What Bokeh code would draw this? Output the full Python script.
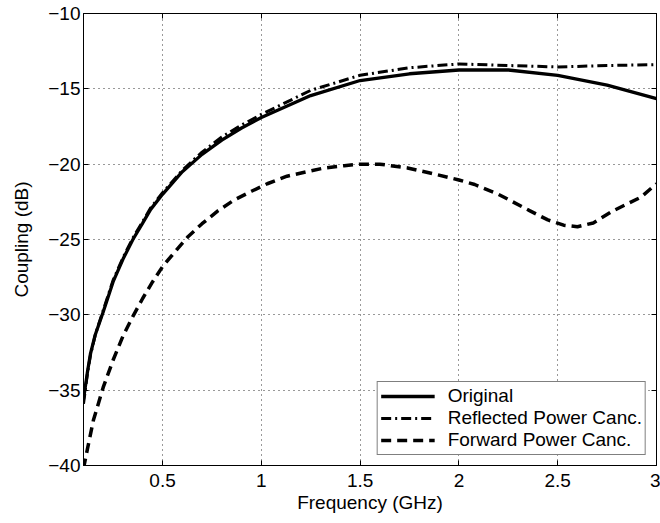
from bokeh.plotting import figure
from bokeh.models import LinearAxis, FixedTicker, Range1d
from bokeh.embed import file_html
from bokeh.resources import INLINE

# ---- data ----
freq_orig = [0.1, 0.12, 0.135, 0.16, 0.2, 0.25, 0.3, 0.35, 0.4, 0.44, 0.5, 0.6, 0.7, 0.8, 0.9,
             1.0, 1.25, 1.5, 1.75, 2.0, 2.25, 2.5, 2.75, 3.0]
coup_orig = [-35.6, -33.8, -32.6, -31.3, -29.8, -27.8, -26.3, -25.0, -23.9, -23.0, -22.0, -20.5,
             -19.35, -18.4, -17.6, -16.9, -15.45, -14.45, -14.0, -13.75, -13.75, -14.1, -14.75, -15.65]

freq_refl = [0.1, 0.12, 0.135, 0.16, 0.2, 0.25, 0.3, 0.35, 0.4, 0.44, 0.5, 0.6, 0.7, 0.8, 0.9,
             1.0, 1.25, 1.5, 1.75, 2.0, 2.25, 2.5, 2.75, 3.0]
coup_refl = [-35.9, -33.9, -32.7, -31.3, -29.7, -27.7, -26.2, -24.9, -23.8, -22.9, -21.9, -20.4,
             -19.2, -18.2, -17.4, -16.7, -15.1, -14.1, -13.6, -13.35, -13.45, -13.55, -13.45, -13.4]

freq_fwd = [0.1, 0.12, 0.15, 0.2, 0.25, 0.3, 0.35, 0.4, 0.45, 0.5, 0.57, 0.63, 0.7, 0.78, 0.86,
            0.95, 1.03, 1.13, 1.23, 1.32, 1.42, 1.5, 1.6, 1.74, 1.89, 2.0, 2.08, 2.2, 2.36, 2.45,
            2.53, 2.6, 2.68, 2.78, 2.92, 3.0]
coup_fwd = [-40.2, -38.9, -37.0, -34.8, -33.0, -31.4, -30.1, -28.9, -27.8, -26.8, -25.7, -24.8,
            -23.95, -23.1, -22.4, -21.8, -21.3, -20.8, -20.5, -20.25, -20.1, -20.0, -20.0, -20.25,
            -20.7, -21.05, -21.35, -22.0, -23.1, -23.7, -24.05, -24.15, -23.9, -23.1, -22.2, -21.3]

series_names = ["Original", "Reflected Power Canc.", "Forward Power Canc."]

x_ticks = [0.5, 1, 1.5, 2, 2.5, 3]
x_tick_labels = ["0.5", "1", "1.5", "2", "2.5", "3"]
y_ticks = [-40, -35, -30, -25, -20, -15, -10]
y_tick_labels = ["\u221240", "\u221235", "\u221230", "\u221225", "\u221220", "\u221215", "\u221210"]

FONT = "Liberation Sans"
FS = "19px"

p = figure(width=660, height=523, output_backend="svg", toolbar_location=None,
           x_range=Range1d(0.1, 3), y_range=Range1d(-40, -10),
           min_border_left=83, min_border_right=4, min_border_top=13, min_border_bottom=58,
           x_axis_label="Frequency (GHz)", y_axis_label="Coupling (dB)")

p.outline_line_color = "black"
p.outline_line_width = 1
p.background_fill_color = "white"
p.border_fill_color = "white"

# grid
p.xgrid.ticker = FixedTicker(ticks=x_ticks)
p.ygrid.ticker = FixedTicker(ticks=y_ticks)
for g in (p.xgrid, p.ygrid):
    g.grid_line_color = "black"
    g.grid_line_alpha = 0.8
    g.grid_line_dash = "1 4"
    g.grid_line_width = 1

def style_axis(ax, ticks, labels, show_labels=True):
    ax.ticker = FixedTicker(ticks=ticks)
    ax.major_tick_in = 5
    ax.major_tick_out = 0
    ax.minor_tick_in = 0
    ax.minor_tick_out = 0
    ax.axis_line_color = "black"
    ax.major_tick_line_color = "black"
    ax.major_label_text_font = FONT
    ax.axis_label_text_font = FONT
    ax.axis_label_text_font_style = "normal"
    ax.axis_label_text_color = "black"
    if show_labels:
        ax.major_label_overrides = {t: l for t, l in zip(ticks, labels)}
        ax.major_label_text_color = "black"
        ax.major_label_text_font_size = FS
        ax.axis_label_text_font_size = FS
    else:
        ax.major_label_text_color = None
        ax.major_label_text_font_size = "1px"
        ax.major_label_standoff = 0

xa = p.xaxis[0]
ya = p.yaxis[0]
style_axis(xa, x_ticks, x_tick_labels)
style_axis(ya, y_ticks, y_tick_labels)
xa.major_label_standoff = 8
xa.axis_label_standoff = 2
ya.major_label_standoff = 3
ya.axis_label_standoff = 13

top = LinearAxis()
style_axis(top, x_ticks, x_tick_labels, show_labels=False)
p.add_layout(top, "above")
right = LinearAxis()
style_axis(right, y_ticks, y_tick_labels, show_labels=False)
p.add_layout(right, "right")

# curves
p.line(freq_orig, coup_orig, line_color="black", line_width=3.3, legend_label=series_names[0])
p.line(freq_refl, coup_refl, line_color="black", line_width=3, line_dash="10 4 2 4",
       legend_label=series_names[1])
p.line(freq_fwd, coup_fwd, line_color="black", line_width=3.5, line_dash="10 6",
       legend_label=series_names[2])

lg = p.legend[0]
lg.location = "bottom_right"
lg.margin = 10
lg.padding = 3
lg.spacing = -1
lg.glyph_width = 54
lg.glyph_height = 20
lg.label_height = 20
lg.label_standoff = 13
lg.label_text_font = FONT
lg.label_text_font_size = FS
lg.label_text_color = "black"
lg.border_line_color = "black"
lg.border_line_width = 1
lg.background_fill_color = "white"
lg.background_fill_alpha = 1.0

open("out.html", "w").write(file_html(p, INLINE))
